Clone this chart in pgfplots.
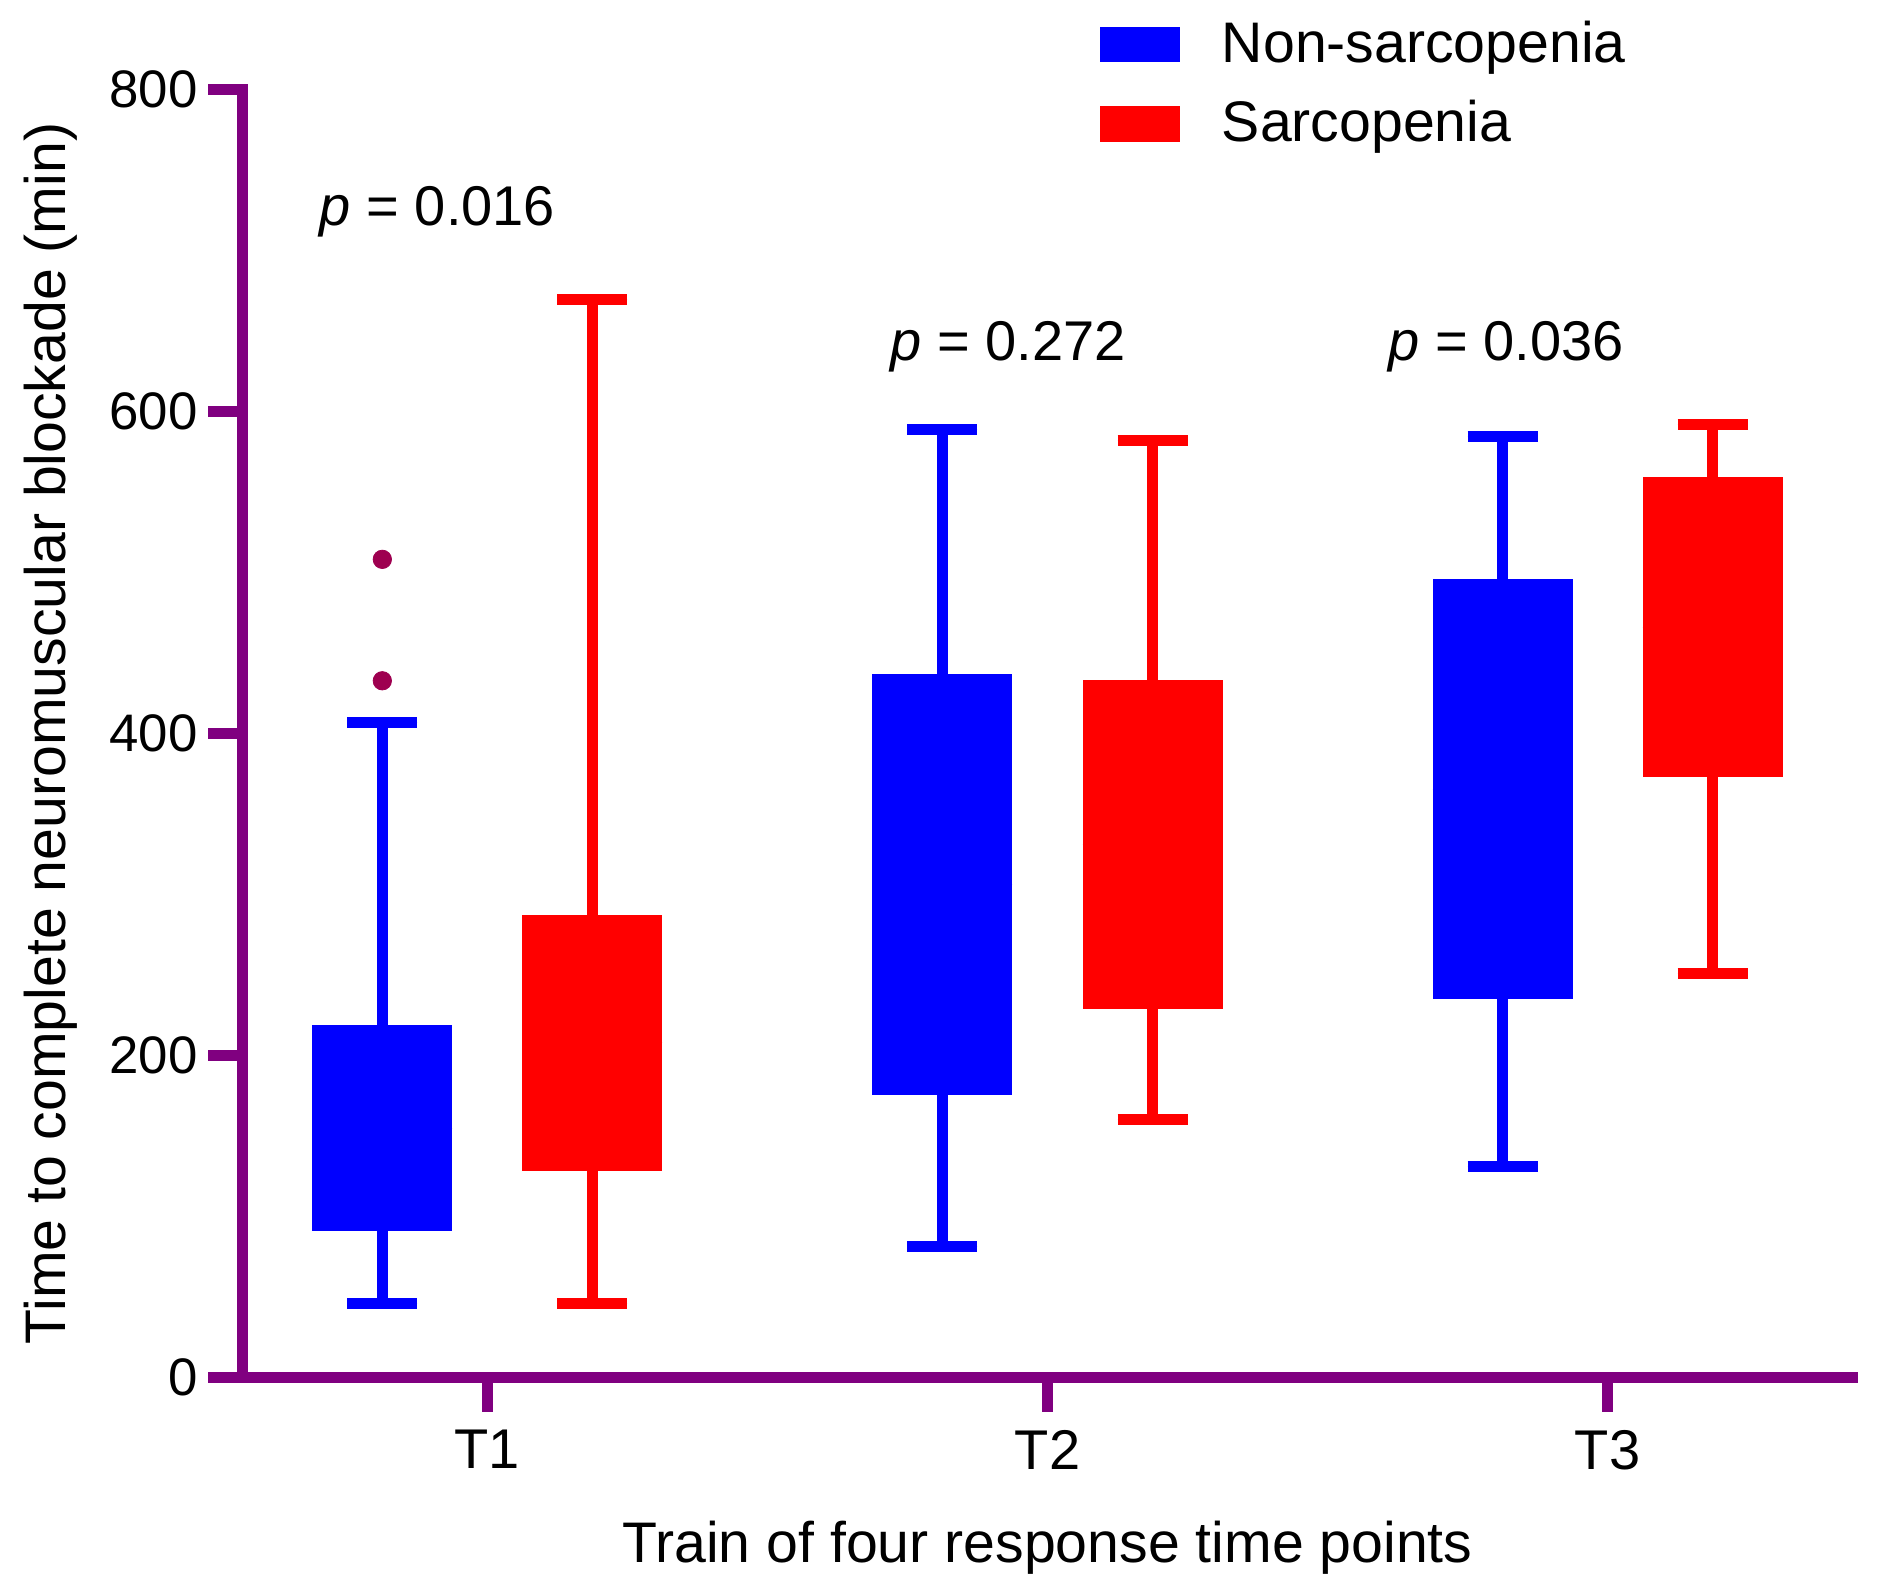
\documentclass[border=0pt]{standalone}
\usepackage{fontspec}
\setmainfont{Liberation Sans}
\usepackage{pgfplots}
\pgfplotsset{compat=1.18}
\usepgfplotslibrary{statistics}
\definecolor{axpurple}{RGB}{128,0,128}
\definecolor{nonsar}{RGB}{0,0,255}
\definecolor{sar}{RGB}{255,0,0}
\definecolor{outl}{RGB}{158,0,80}
\newcommand{\fs}{\fontsize{14}{16.8}\selectfont}
\newcommand{\fl}{\fontsize{14.3}{17.2}\selectfont}
\begin{document}
\begin{tikzpicture}
\begin{axis}[
  at={(0pt,0pt)}, anchor=south west,
  scale only axis, width=402.6pt, height=322.1pt,
  xmin=0.5625, xmax=3.4375, ymin=0, ymax=800,
  axis lines*=left,
  axis line style={draw=axpurple, line width=2.8pt, line cap=rect},
  tick align=outside, major tick length=8.5pt,
  tick style={draw=axpurple, line width=2.8pt},
  xtick={1,2,3}, xticklabels={T1,T2,T3},
  ytick={0,200,400,600,800},
  minor tick num=0,
  /pgf/number format/assume math mode=true,
  xticklabel style={font=\fs, inner sep=0pt, anchor=north},
  yticklabel style={font=\fontsize{13.2}{15.8}\selectfont, inner sep=0pt, anchor=east},
  xticklabel shift=4.4pt, yticklabel shift=2.5pt,
  xlabel={Train of four response time points},
  ylabel={Time to complete neuromuscular blockade (min)},
  every axis x label/.style={at={([yshift=-46.2pt]axis description cs:0.5,0)}, anchor=base, font=\fl},
  every axis y label/.style={at={([xshift=-44.3pt]axis description cs:0,0.5)}, rotate=90, anchor=base, font=\fl},
  clip=false,
  boxplot/draw direction=y,
  boxplot/every box/.style={draw=none},
  boxplot/every median/.style={draw=none},
  legend cell align=left,
  legend style={at={(axis description cs:0.5328,1.0531)}, anchor=north west,
    draw=none, fill=none, inner sep=0pt, outer sep=0pt,
    row sep=7.6pt, column sep=10.5pt, font=\fl, nodes={inner sep=0pt}},
]
\addlegendimage{legend image code/.code={\fill[nonsar, draw=none] (0pt,-4.4pt) rectangle (19.9pt,4.4pt); \path[draw=none, fill=none] (0pt,-6.3pt) rectangle (0pt,4.4pt);}}
\addlegendentry{Non-sarcopenia}
\addlegendimage{legend image code/.code={\fill[sar, draw=none] (0pt,-4.4pt) rectangle (19.9pt,4.4pt); \path[draw=none, fill=none] (0pt,-6.3pt) rectangle (0pt,4.4pt);}}
\addlegendentry{Sarcopenia}

% T1
\addplot[boxplot prepared={draw position=0.8125, lower whisker=46.1, lower quartile=91.0, median=155, upper quartile=219.2, upper whisker=406.6, box extend=0.25, whisker extend=0.125},
  draw=nonsar, fill=nonsar, line width=2.75pt, mark=*, mark size=2.3pt, mark options={draw=outl, fill=outl, line width=0.2pt}]
  table[row sep=\\, header=false, y index=0] {508.2\\ 432.8\\};
\addplot[boxplot prepared={draw position=1.1875, lower whisker=46.1, lower quartile=128.6, median=208, upper quartile=287.2, upper whisker=669.4, box extend=0.25, whisker extend=0.125},
  draw=sar, fill=sar, line width=2.75pt] coordinates {};
% T2
\addplot[boxplot prepared={draw position=1.8125, lower whisker=81.5, lower quartile=175.6, median=306, upper quartile=436.9, upper whisker=588.9, box extend=0.25, whisker extend=0.125},
  draw=nonsar, fill=nonsar, line width=2.75pt] coordinates {};
\addplot[boxplot prepared={draw position=2.1875, lower whisker=160.3, lower quartile=229.2, median=331, upper quartile=433.1, upper whisker=581.7, box extend=0.25, whisker extend=0.125},
  draw=sar, fill=sar, line width=2.75pt] coordinates {};
% T3
\addplot[boxplot prepared={draw position=2.8125, lower whisker=131.3, lower quartile=234.9, median=365, upper quartile=495.7, upper whisker=584.2, box extend=0.25, whisker extend=0.125},
  draw=nonsar, fill=nonsar, line width=2.75pt] coordinates {};
\addplot[boxplot prepared={draw position=3.1875, lower whisker=250.8, lower quartile=373.1, median=466, upper quartile=559.4, upper whisker=591.8, box extend=0.25, whisker extend=0.125},
  draw=sar, fill=sar, line width=2.75pt] coordinates {};

\node[anchor=base, font=\fs] at (axis cs:0.911,715.4) {\textit{p} = 0.016};
\node[anchor=base, font=\fs] at (axis cs:1.930,631.9) {\textit{p} = 0.272};
\node[anchor=base, font=\fs] at (axis cs:2.819,631.9) {\textit{p} = 0.036};
\end{axis}
\pgfresetboundingbox
\path[use as bounding box] (-60.575pt,-54.3pt) rectangle (409.175pt,344.45pt);
\end{tikzpicture}
\end{document}
